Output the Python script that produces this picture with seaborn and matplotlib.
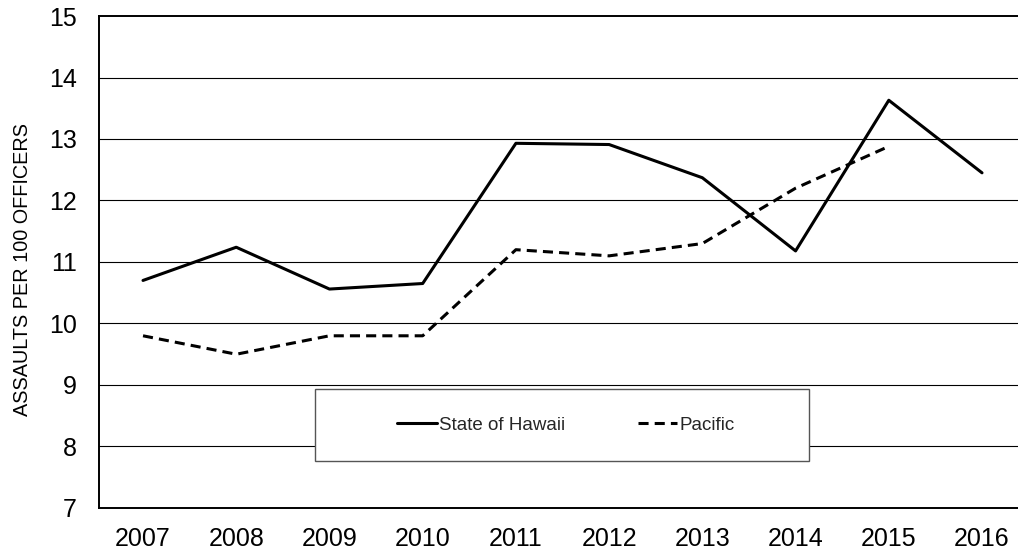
import matplotlib
matplotlib.use("Agg")
import pandas as pd
import matplotlib.pyplot as plt
import seaborn as sns
from matplotlib.patches import Rectangle

years = ["2007", "2008", "2009", "2010", "2011", "2012", "2013", "2014", "2015", "2016"]
hawaii = [10.70, 11.24, 10.56, 10.65, 12.93, 12.91, 12.37, 11.18, 13.63, 12.45]
pacific = [9.8, 9.5, 9.8, 9.8, 11.2, 11.1, 11.3, 12.2, 12.88, None]
series_names = ["State of Hawaii", "Pacific"]

sns.set_style("white")
plt.rcParams["font.family"] = ["Liberation Sans", "DejaVu Sans"]

df = pd.concat([
    pd.DataFrame({"year": range(len(years)), "value": hawaii, "series": series_names[0]}),
    pd.DataFrame({"year": range(len(years)), "value": pacific, "series": series_names[1]}),
]).dropna()

fig = plt.figure(figsize=(10.18, 5.5), dpi=100)
ax = fig.add_axes([0.0973, 0.0764, 0.9027, 0.8945])

sns.lineplot(
    data=df, x="year", y="value", style="series", hue="series",
    palette=["black", "black"], dashes=[(), (3.3, 2)],
    linewidth=2.2, ax=ax, legend=False, zorder=3,
)

ax.set_xlim(-0.4716, 9.386)
ax.set_ylim(7, 15)
ax.set_xticks(range(len(years)))
ax.set_xticklabels(years)
ax.set_yticks(range(7, 16))
ax.tick_params(axis="both", length=0, labelsize=18, colors="black")
ax.tick_params(axis="y", pad=16)
ax.tick_params(axis="x", pad=14)

for y in range(8, 15):
    ax.axhline(y, color="black", lw=0.8, zorder=1)

for side in ["left", "bottom", "top"]:
    ax.spines[side].set_color("black")
    ax.spines[side].set_linewidth(1.4)
ax.spines["right"].set_visible(False)

ax.set_xlabel("")
ax.set_ylabel("ASSAULTS PER 100 OFFICERS", fontsize=14.3, color="black")
ax.yaxis.set_label_coords(-0.073, 0.485)

# legend box
ax.add_patch(Rectangle((0.235, 0.0955), 0.5375, 0.1463, transform=ax.transAxes,
                       facecolor="white", edgecolor="#555555", lw=1.0, zorder=4))
handles = [
    plt.Line2D([0], [0], color="black", lw=2.2),
    plt.Line2D([0], [0], color="black", lw=2.2, dashes=(3.3, 2)),
]
leg = ax.legend(handles, series_names, loc="center", bbox_to_anchor=(0.508, 0.1687),
                ncol=2, frameon=False, fontsize=13.5, handlelength=2.1,
                handletextpad=0.1, columnspacing=3.9)
leg.set_zorder(5)

fig.savefig("out.png", dpi=100)
